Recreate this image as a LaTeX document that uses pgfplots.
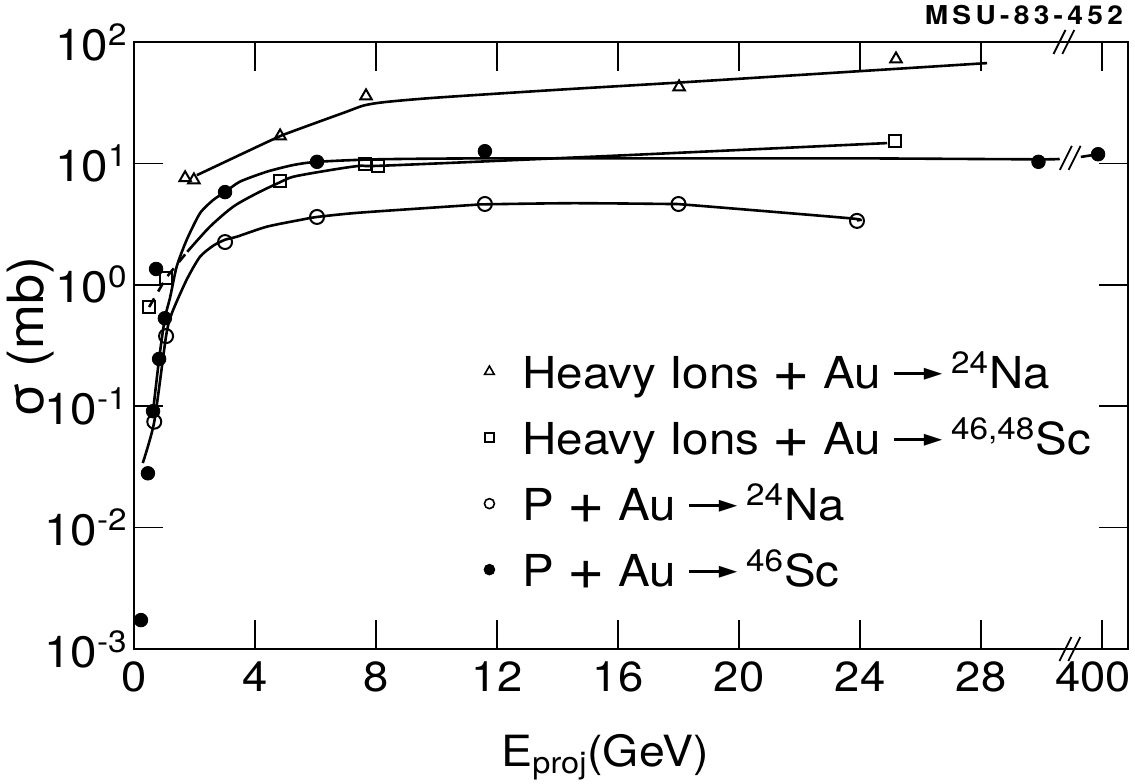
\documentclass[border=0pt]{standalone}
\usepackage{fontspec}
\setmainfont{TeX Gyre Heros}[FakeStretch=1.08]
\newfontfamily\dejavu{DejaVu Sans}
\usepackage{pgfplots}
\pgfplotsset{compat=1.18}
\newcommand\arr{\hspace{0.3em}\raisebox{7pt}{\rule{19pt}{1.1pt}}\kern-4pt\raisebox{4pt}{\dejavu\fontsize{12}{12}\selectfont ►}\hspace{0.2em}}
\newcommand\plus{\raisebox{-1.5pt}{\scalebox{1.35}{+}}}
\begin{document}
\begin{tikzpicture}
\begin{axis}[
  clip mode=individual,
  scale only axis, width=497pt, height=303.5pt,
  xmin=0, xmax=32.86, ymode=log, ymin=1e-3, ymax=1e2,
  axis line style={line width=1pt},
  xtick={0,4,8,12,16,20,24,28,32},
  xticklabels={0,4,8,12,16,20,24,28,\hspace*{-9pt}400},
  ytick={1e-3,1e-2,1e-1,1,1e1,1e2},
  yticklabels={10\textsuperscript{-3},10\textsuperscript{-2},10\textsuperscript{-1},10\textsuperscript{0},10\textsuperscript{1},10\textsuperscript{2}},
  yminorticks=false, xminorticks=false,
  tick align=inside, major tick length=14.5pt,
  every tick/.style={line width=0.8pt, black},
  xticklabel style={font=\fontsize{21}{24}\selectfont, inner ysep=6pt},
  yticklabel style={font=\fontsize{22}{25}\selectfont, inner xsep=3pt},
  legend cell align=left,
  legend style={at={(rel axis cs:0.340,0.479)}, anchor=north west, draw=none, fill=none,
    inner sep=0pt, row sep=14pt, column sep=8pt, font=\fontsize{22}{26}\selectfont,
    nodes={inner sep=0pt, text height=15pt, text depth=4pt}},
  legend image code/.code={\path[draw=none,fill=none] (0cm,-0.1cm) rectangle (0.6cm,0.1cm); \draw[#1] plot coordinates {(0.3cm,3pt)};},
]
% legend
\addlegendimage{only marks, mark=triangle, mark size=2.8pt, mark options={line width=0.8pt, fill=white}}
\addlegendentry{Heavy Ions \plus{} Au\arr\textsuperscript{24}Na}
\addlegendimage{only marks, mark=square, mark size=2.3pt, mark options={line width=0.8pt, fill=white}}
\addlegendentry{Heavy Ions \plus{} Au\arr\textsuperscript{46,48}Sc}
\addlegendimage{only marks, mark=o, mark size=2.5pt, mark options={line width=0.8pt, fill=white}}
\addlegendentry{P \plus{} Au\arr\textsuperscript{24}Na}
\addlegendimage{only marks, mark=*, mark size=2.7pt, mark options={black}}
\addlegendentry{P \plus{} Au\arr\textsuperscript{46}Sc}

% curves
\addplot[forget plot, line width=1.3pt, smooth, tension=0.45] coordinates {
(2.08,8.0)(4.6,15.8)(5.2,18.2)(7.0,26.5)(7.6,30.0)(8.3,32.0)(10,34.8)(14.08,40.5)(18,46.3)(22,53.5)(28.2,67)};
\addplot[forget plot, line width=1.3pt, dash pattern=on 5pt off 4pt] coordinates {
(0.50,0.656)(1.06,1.14)(1.76,1.87)};
\addplot[forget plot, line width=1.3pt, smooth, tension=0.45] coordinates {
(1.76,1.87)(2.51,3.01)(3.28,4.40)(4.06,5.67)(4.83,7.0)(5.27,7.77)(6.37,8.71)(7.47,9.55)(8.36,9.6)(16,11.6)(24.9,14.7)};
\addplot[forget plot, line width=1.3pt, smooth, tension=0.4] coordinates {
(0.63,0.091)(0.83,0.245)(1.02,0.53)(1.19,0.78)(1.41,1.41)(1.74,2.34)(2.18,3.88)(2.62,5.0)(3.01,5.8)(3.50,7.07)(4.39,8.54)(5.27,9.70)(6.05,10.3)(8,10.8)(11.6,11.0)(20,11.0)(24,11.0)(29.9,10.8)(30.6,10.9)};
\addplot[forget plot, line width=1.3pt] coordinates {(31.3,11.3)(31.87,11.9)};
\addplot[forget plot, line width=1.3pt, smooth, tension=0.4] coordinates {
(0.29,0.034)(0.67,0.0745)(1.06,0.378)(1.25,0.582)(1.74,1.10)(2.18,1.70)(2.62,2.10)(3.01,2.35)(3.40,2.49)(4.39,3.01)(5.49,3.42)(6.05,3.62)(7.47,3.93)(11.16,4.54)(11.6,4.6)(14.5,4.7)(17.65,4.63)(18.38,4.54)(23.67,3.53)(23.9,3.4)};

% markers
\addplot[forget plot, only marks, mark=triangle, mark size=3.3pt, mark options={line width=1pt, fill=white}] coordinates {
(1.69,7.6)(1.98,7.3)(4.83,16.8)(7.67,35.9)(18.02,42.6)(25.19,72.4)};
\addplot[forget plot, only marks, mark=square, mark size=3pt, mark options={line width=1pt, fill=white}] coordinates {
(0.50,0.656)(1.06,1.14)(4.83,7.16)(7.64,9.9)(8.07,9.5)(25.16,15.3)};
\addplot[forget plot, only marks, mark=o, mark size=3.5pt, mark options={line width=1pt, fill=white}] coordinates {
(0.67,0.0745)(1.06,0.378)(3.01,2.25)(6.05,3.62)(11.6,4.63)(18.0,4.63)(23.9,3.36)};
\addplot[forget plot, only marks, mark=*, mark size=3.4pt, mark options={black}] coordinates {
(0.23,0.00173)(0.46,0.028)(0.63,0.091)(0.83,0.245)(0.73,1.35)(1.02,0.53)(3.01,5.8)(6.05,10.3)(11.6,12.6)(29.9,10.3)(31.87,11.9)};

% axis break marks
\draw[line width=0.9pt] ([xshift=-2.2pt]rel axis cs:0.9415,0) ++(-3pt,-6pt) -- ++(6pt,12pt);
\draw[line width=0.9pt] ([xshift=2.2pt]rel axis cs:0.9415,0) ++(-3pt,-6pt) -- ++(6pt,12pt);
\draw[line width=0.9pt] ([xshift=-2.2pt]rel axis cs:0.9355,1) ++(-3pt,-6pt) -- ++(6pt,12pt);
\draw[line width=0.9pt] ([xshift=2.2pt]rel axis cs:0.9355,1) ++(-3pt,-6pt) -- ++(6pt,12pt);
\draw[line width=0.9pt] ([xshift=-2.2pt]axis cs:30.95,11.1) ++(-3pt,-6pt) -- ++(6pt,12pt);
\draw[line width=0.9pt] ([xshift=2.2pt]axis cs:30.95,11.1) ++(-3pt,-6pt) -- ++(6pt,12pt);
% labels and stamp
\node[rotate=90, font=\fontsize{25}{28}\selectfont] at (rel axis cs:-0.1036,0.514) {σ (mb)};
\node[anchor=base, font=\fontsize{21.5}{25}\selectfont] at (rel axis cs:0.474,-0.193) {E\textsubscript{proj}(GeV)};
\node[anchor=east, font=\fontsize{13}{15}\selectfont\bfseries] at (rel axis cs:1.002,1.0445) {M\,S\,U\,-\,8\,3\,-\,4\,5\,2};
\coordinate (bbsw) at (rel axis cs:-0.13481,-0.22241);
\coordinate (bbne) at (rel axis cs:1.00704,1.06919);
\end{axis}
\pgfresetboundingbox
\path[use as bounding box] (bbsw) rectangle (bbne);
\end{tikzpicture}
\end{document}
